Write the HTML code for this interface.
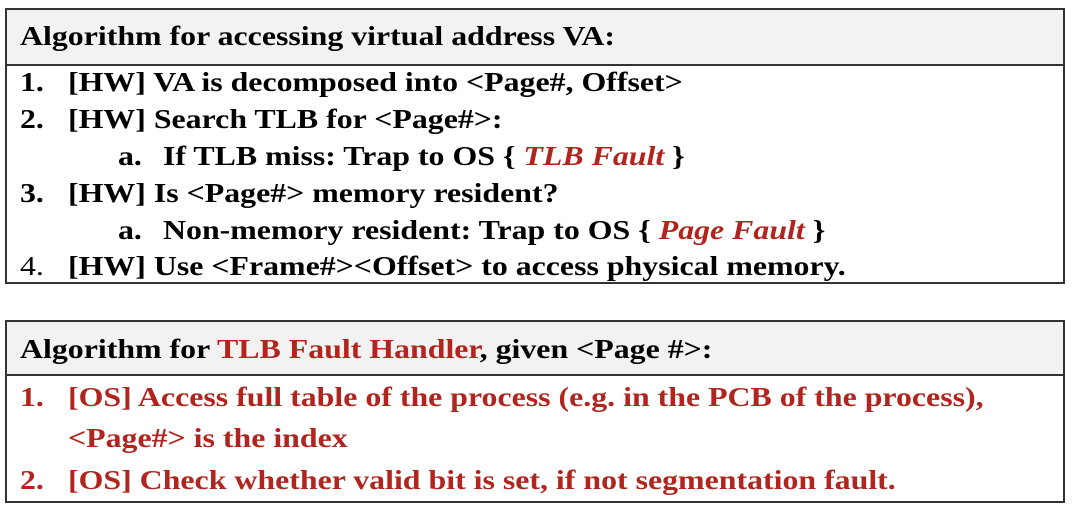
<!DOCTYPE html>
<html><head><style>
body{margin:0;width:1074px;height:512px;background:#fff;font-family:"Liberation Serif",serif;font-weight:bold;font-size:27px;color:#000;position:relative;overflow:hidden}
.box{position:absolute;left:5px;width:1060px;border:2px solid #333;box-sizing:border-box}
.hd{position:absolute;left:0;right:0;top:0;background:#f2f2f2;border-bottom:2px solid #333}
.t{position:absolute;white-space:nowrap;line-height:1;transform:scaleX(1.18);transform-origin:0 0}
.r{color:#b0261e}
i{font-style:italic}
</style></head><body>
<div class="box" style="top:8px;height:276px"><div class="hd" style="height:54px"></div></div>
<div class="box" style="top:320px;height:183px"><div class="hd" style="height:52px"></div></div>

<div class="t" style="left:20px;top:23px">Algorithm for accessing virtual address VA:</div>
<div class="t" style="left:20px;top:69px">1.</div><div class="t" style="left:68px;top:69px">[HW] VA is decomposed into &lt;Page#, Offset&gt;</div>
<div class="t" style="left:20px;top:106px">2.</div><div class="t" style="left:68px;top:106px">[HW] Search TLB for &lt;Page#&gt;:</div>
<div class="t" style="left:118px;top:143px">a.</div><div class="t" style="left:163px;top:143px">If TLB miss: Trap to OS { <i class="r">TLB Fault</i> }</div>
<div class="t" style="left:20px;top:180px">3.</div><div class="t" style="left:68px;top:180px">[HW] Is &lt;Page#&gt; memory resident?</div>
<div class="t" style="left:118px;top:217px">a.</div><div class="t" style="left:163px;top:217px">Non-memory resident: Trap to OS { <i class="r">Page Fault</i> }</div>
<div class="t" style="left:20px;top:253px;font-weight:normal">4.</div><div class="t" style="left:68px;top:253px">[HW] Use &lt;Frame#&gt;&lt;Offset&gt; to access physical memory.</div>

<div class="t" style="left:20px;top:336px">Algorithm for <span class="r">TLB Fault Handler</span>, given &lt;Page #&gt;:</div>
<div class="t r" style="left:20px;top:384px">1.</div><div class="t r" style="left:68px;top:384px">[OS] Access full table of the process (e.g. in the PCB of the process),</div>
<div class="t r" style="left:68px;top:425px">&lt;Page#&gt; is the index</div>
<div class="t r" style="left:20px;top:467px">2.</div><div class="t r" style="left:68px;top:467px">[OS] Check whether valid bit is set, if not segmentation fault.</div>
</body></html>
